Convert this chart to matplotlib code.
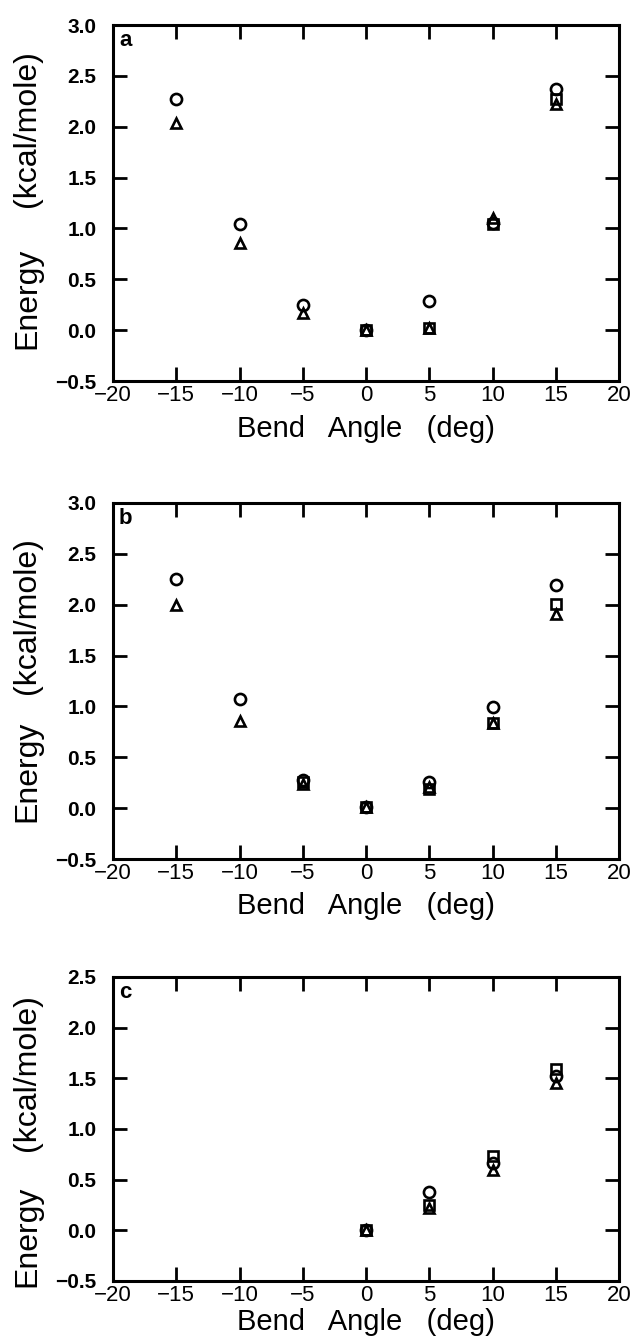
import numpy as np
import matplotlib
matplotlib.use("Agg")
import matplotlib.pyplot as plt

plt.rcParams['font.family'] = ['Liberation Sans', 'DejaVu Sans']

# ---- data ----
angles_ab = [-15, -10, -5, 0, 5, 10, 15]
angles_c = [0, 5, 10, 15]

a_circle = [2.27, 1.04, 0.25, 0.00, 0.29, 1.05, 2.37]
a_square = [np.nan, np.nan, np.nan, 0.00, 0.02, 1.04, 2.27]
a_triangle = [2.04, 0.86, 0.17, 0.00, 0.02, 1.10, 2.22]

b_circle = [2.25, 1.07, 0.28, 0.01, 0.26, 0.99, 2.19]
b_square = [np.nan, np.nan, 0.26, 0.01, 0.19, 0.84, 2.01]
b_triangle = [2.00, 0.86, 0.24, 0.01, 0.21, 0.84, 1.91]

c_circle = [0.00, 0.38, 0.66, 1.52]
c_square = [0.00, 0.25, 0.73, 1.59]
c_triangle = [0.00, 0.22, 0.60, 1.45]

panel_letters = ['a', 'b', 'c']
xticks = [-20, -15, -10, -5, 0, 5, 10, 15, 20]
yticks_ab = [-0.5, 0.0, 0.5, 1.0, 1.5, 2.0, 2.5, 3.0]
yticks_c = [-0.5, 0.0, 0.5, 1.0, 1.5, 2.0, 2.5]
xlabel = 'Bend   Angle   (deg)'
ylabel_words = ['Energy', '(kcal/mole)']

W, H = 636, 1340
fig = plt.figure(figsize=(W / 100, H / 100), dpi=100)

# axes boxes in pixels: left, right, top, bottom
boxes = [(113, 619, 25, 381), (113, 619, 503, 859), (113, 619, 977, 1281)]
panels = [
    (angles_ab, a_circle, a_square, a_triangle, yticks_ab),
    (angles_ab, b_circle, b_square, b_triangle, yticks_ab),
    (angles_c, c_circle, c_square, c_triangle, yticks_c),
]
# vertical centres (in axes fraction) of the two parts of the y label
ylab_pos = [(0.233, 0.708), (0.247, 0.685), (0.147, 0.686)]
xlab_pads = [6, 6, 1]


def fmt(v, dec):
    s = ('%.' + str(dec) + 'f') % abs(v)
    return '\u2212' + s if v < 0 else s


for (l, r, t, b), (xs, circ, sq, tri, yt), letter, yp, lp in zip(
        boxes, panels, panel_letters, ylab_pos, xlab_pads):
    ax = fig.add_axes([l / W, 1 - b / H, (r - l) / W, (b - t) / H])
    mk = dict(linestyle='none', markerfacecolor='none', markeredgecolor='black',
              markeredgewidth=1.9, clip_on=False)
    ax.plot(xs, sq, marker='s', markersize=7, **mk)
    ax.plot(xs, tri, marker='^', markersize=7.5, **mk)
    ax.plot(xs, circ, marker='o', markersize=8, **mk)
    ax.set_xlim(-20, 20)
    ax.set_ylim(yt[0], yt[-1])
    ax.set_xticks(xticks)
    ax.set_xticklabels([fmt(v, 0) for v in xticks], fontsize=16)
    ax.set_yticks(yt)
    ax.set_yticklabels([fmt(v, 1) for v in yt], fontsize=15, fontweight='bold')
    ax.tick_params(direction='in', length=10, width=2, top=True, right=True)
    ax.tick_params(axis='y', pad=12)
    ax.tick_params(axis='x', pad=3)
    for sp in ax.spines.values():
        sp.set_linewidth(2.2)
    ax.set_xlabel(xlabel, fontsize=21, labelpad=lp)
    for word, yc in zip(ylabel_words, yp):
        ax.text(-0.170, yc, word, transform=ax.transAxes, rotation=90,
                fontsize=23, ha='center', va='center')
    ax.text(0.012, 0.985, letter, transform=ax.transAxes, fontsize=16,
            fontweight='bold', ha='left', va='top')

fig.savefig('out.png', dpi=100)
